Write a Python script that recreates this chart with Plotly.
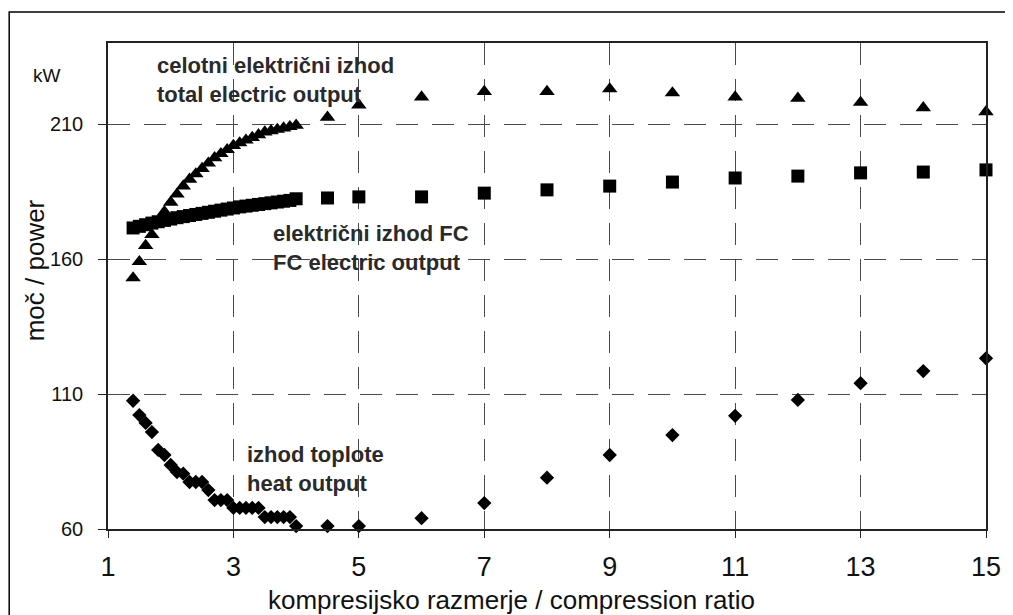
import plotly.graph_objects as go

# compression ratio values
x_dense = [1.4, 1.5, 1.6, 1.7, 1.8, 1.9, 2.0, 2.1, 2.2, 2.3, 2.4, 2.5, 2.6, 2.7,
           2.8, 2.9, 3.0, 3.1, 3.2, 3.3, 3.4, 3.5, 3.6, 3.7, 3.8, 3.9, 4.0]
x_sparse = [4.5, 5, 6, 7, 8, 9, 10, 11, 12, 13, 14, 15]

# total electric output (kW)
total_dense = [153, 159, 165, 169, 174, 177.5, 181, 184, 187, 189.5, 191.5, 193.5,
               195.5, 197.5, 199, 200.5, 202, 203, 204, 205, 206, 207, 207.5, 208,
               208.5, 209, 209.5]
total_sparse = [212.5, 217, 220, 222, 222, 223, 221.5, 220, 219.5, 218, 216, 214.5]

# FC electric output (kW)
fc_dense = [171.5, 172.1, 172.7, 173.3, 173.8, 174.3, 174.8, 175.3, 175.7, 176.1,
            176.5, 176.9, 177.3, 177.7, 178.1, 178.5, 178.9, 179.3, 179.6, 179.9,
            180.2, 180.5, 180.8, 181.1, 181.4, 181.7, 182.3]
fc_sparse = [182.6, 183, 183, 184.4, 185.6, 187, 188.5, 190, 190.7, 191.9, 192.2, 193]

# heat output (kW)
heat_dense = [107.5, 102.2, 99.3, 95.9, 89.3, 87.4, 83.7, 81.1, 80.5, 77.4, 77.4,
              77.4, 74.4, 70.7, 70.7, 70.7, 67.8, 67.8, 67.8, 67.8, 67.8, 64.4, 64.4,
              64.4, 64.4, 64.4, 61.1]
heat_sparse = [61.1, 61.1, 64, 69.6, 79, 87.4, 94.8, 101.9, 107.8, 114, 118.5, 123.2]

x_ticks = [1, 3, 5, 7, 9, 11, 13, 15]
y_ticks = [60, 110, 160, 210]

x_all = x_dense + x_sparse

fig = go.Figure()
fig.add_trace(go.Scatter(x=x_all, y=total_dense + total_sparse, mode="markers",
                         marker=dict(symbol="triangle-up", size=13.5, color="black"),
                         name="total electric output", cliponaxis=False))
fig.add_trace(go.Scatter(x=x_all, y=fc_dense + fc_sparse, mode="markers",
                         marker=dict(symbol="square", size=13, color="black"),
                         name="FC electric output", cliponaxis=False))
fig.add_trace(go.Scatter(x=x_all, y=heat_dense + heat_sparse, mode="markers",
                         marker=dict(symbol="diamond", size=11, color="black"),
                         name="heat output", cliponaxis=False))

font_family = "Liberation Sans, Arial, sans-serif"
grid_color = "#4a4a4a"

W, H = 1005, 607
L, T, R, B = 100, 35, 23, 86
pw, ph = W - L - R, H - T - B


def px(fx):
    return (fx - L) / pw


def py(fy):
    return (T + ph - fy) / ph


fig.update_layout(
    width=W, height=H,
    margin=dict(l=L, r=R, t=T, b=B, pad=0),
    paper_bgcolor="white", plot_bgcolor="white",
    showlegend=False,
    font=dict(family=font_family, color="#111"),
    xaxis=dict(range=[1, 15], tickvals=x_ticks, ticktext=[str(v) for v in x_ticks],
               showgrid=True, gridcolor=grid_color, gridwidth=1, griddash="22px,14px",
               showline=True, linecolor="#222", linewidth=1.5, mirror=True,
               ticks="outside", ticklen=7, tickcolor="#222", ticklabelstandoff=6,
               tickfont=dict(size=27, family=font_family),
               zeroline=False),
    yaxis=dict(range=[60, 240], tickvals=y_ticks, ticktext=[str(v) for v in y_ticks],
               showgrid=True, gridcolor=grid_color, gridwidth=1, griddash="22px,14px",
               showline=True, linecolor="#222", linewidth=1.5, mirror=True,
               ticks="outside", ticklen=8, tickcolor="#222", ticklabelstandoff=11,
               tickfont=dict(size=20, family=font_family),
               zeroline=False),
)

# outer frame
fig.add_shape(type="rect", xref="paper", yref="paper",
              x0=px(0.75), x1=px(W + 20),
              y0=py(H + 20), y1=py(4),
              line=dict(color="black", width=1.5), fillcolor="rgba(0,0,0,0)")

# axis titles
title_font = dict(size=26, family=font_family, color="#111")
fig.add_annotation(x=px(505), y=py(592), xref="paper", yref="paper",
                   xanchor="center", yanchor="middle", showarrow=False,
                   text="kompresijsko razmerje / compression ratio", font=title_font)
fig.add_annotation(x=px(27), y=py(262), xref="paper", yref="paper",
                   xanchor="center", yanchor="middle", showarrow=False, textangle=-90,
                   text="moč / power", font=title_font)
fig.add_annotation(x=px(39), y=py(68), xref="paper", yref="paper",
                   xanchor="center", yanchor="middle", showarrow=False,
                   text="kW", font=dict(size=19, family=font_family, color="#111"))

ann_font = dict(size=22, family=font_family, color="#2a2a2a")
fig.add_annotation(x=1.746, y=226.3, xref="x", yref="y", xanchor="left", yanchor="middle",
                   text="<b>celotni električni izhod<br>total electric output</b>",
                   showarrow=False, align="left", font=ann_font)
fig.add_annotation(x=3.603, y=163.9, xref="x", yref="y", xanchor="left", yanchor="middle",
                   text="<b>električni izhod FC<br>FC electric output</b>",
                   showarrow=False, align="left", font=ann_font)
fig.add_annotation(x=3.19, y=82.4, xref="x", yref="y", xanchor="left", yanchor="middle",
                   text="<b>izhod toplote<br>heat output</b>",
                   showarrow=False, align="left", font=ann_font)

fig.write_html("out.html")
